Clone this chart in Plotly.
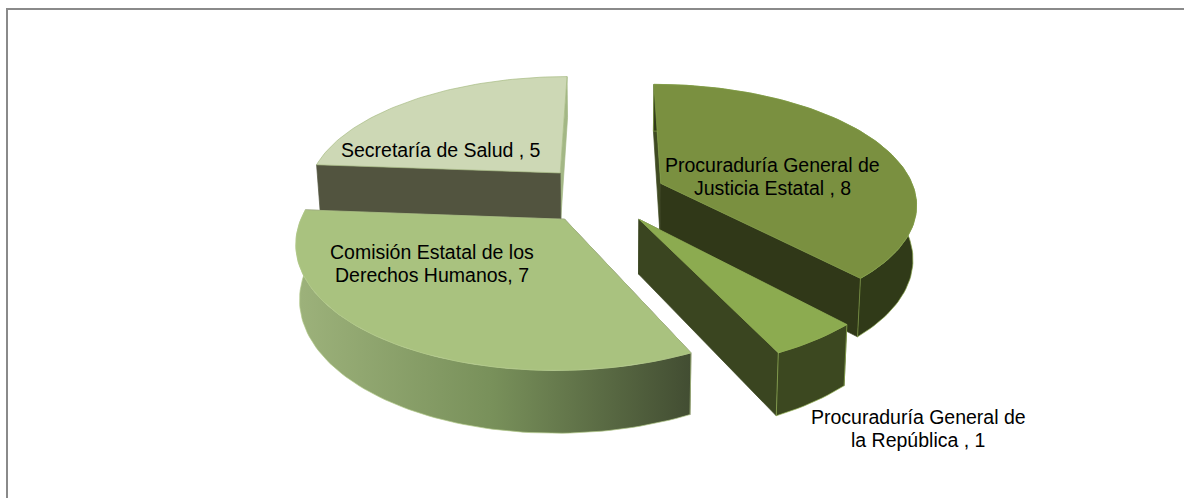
import math
import plotly.graph_objects as go

categories = ["Procuraduría General de Justicia Estatal", "Procuraduría General de la República",
              "Comisión Estatal de los Derechos Humanos", "Secretaría de Salud"]
values = [8, 1, 7, 5]
label_lines = [["Procuraduría General de", "Justicia Estatal , 8"], ["Procuraduría General de", "la República , 1"],
               ["Comisión Estatal de los", "Derechos Humanos, 7"], ["Secretaría de Salud , 5"]]
top_colors = ["#7A9040", "#8CAB50", "#A9C27F", "#CDD8B5"]
end_face_colors = ["#303818", "#3A4520", "#54553F", "#A3B785"]
start_face_colors = ["#3F4A22", "#3A4520", "#54553F", "#52543F"]
wall_colors = ["#303A18", "#3C4820", None, "#A3B785"]
edge_colors = ["#84A048", "#97B558", "#B2C98A", "#A8BC84"]
wall_gradient = [[0, "#9DB27B"], [0.5, "#78905A"], [1, "#424D32"]]
label_x = [772, 918, 431.5, 441]
label_y = [165, 417, 252, 150]
depths = [54, 54, 53, 47.5]
draw_order = [3, 0, 2, 1]

A, B, K, EXPLODE, VX, CY, X0, BOTTOM = 255, 118, 0.16, 0.25, 611, 194, -0.035, 0.012
LINE_STEP = 22.5


def project(x, y, down=0.0):
    w = (1 - K * y) * (1 + BOTTOM * (1 if down else 0))
    return VX + A * (x + X0) / w, CY + (B * y + down) / w


def arc(ox, oy, t0, t1, down, n):
    return [project(ox + math.sin(t0 + (t1 - t0) * i / n), oy - math.cos(t0 + (t1 - t0) * i / n), down)
            for i in range(n + 1)]


def poly(fig, pts, color, edge=None, gradient=None):
    xs = [p[0] for p in pts] + [pts[0][0]]
    ys = [p[1] for p in pts] + [pts[0][1]]
    kw = dict(x=xs, y=ys, mode="lines", fill="toself", hoverinfo="skip", showlegend=False,
              line=dict(color=edge or color or "rgba(0,0,0,0)", width=0.7))
    if gradient:
        kw["fillgradient"] = dict(type="horizontal", colorscale=gradient)
    else:
        kw["fillcolor"] = color
    fig.add_trace(go.Scatter(**kw))


fig = go.Figure()
total = sum(values)
starts = [sum(values[:i]) / total * 2 * math.pi for i in range(len(values))]
ends = [sum(values[:i + 1]) / total * 2 * math.pi for i in range(len(values))]

for i in draw_order:
    t0, t1 = starts[i], ends[i]
    mid = (t0 + t1) / 2
    ox, oy = EXPLODE * math.sin(mid), -EXPLODE * math.cos(mid)
    d = depths[i]
    n = max(8, int((t1 - t0) * 40))
    apex_t, apex_b = project(ox, oy), project(ox, oy, d)
    top_arc, bot_arc = arc(ox, oy, t0, t1, 0, n), arc(ox, oy, t0, t1, d, n)
    # the face that looks away goes down first
    faces = [([apex_t, top_arc[0], bot_arc[0], apex_b], start_face_colors[i]),
             ([apex_t, top_arc[-1], bot_arc[-1], apex_b], end_face_colors[i])]
    if i == 3:
        faces.reverse()
    for pts, col in faces:
        poly(fig, pts, col, col)
    wall = top_arc + bot_arc[::-1]
    if wall_colors[i] is None:
        poly(fig, wall, None, "#B2C98A", wall_gradient)
    elif i != 3:
        poly(fig, wall, wall_colors[i], edge_colors[i])
    poly(fig, [apex_t] + top_arc, top_colors[i], edge_colors[i])

fig.update_layout(
    width=1184, height=498, margin=dict(l=0, r=0, t=0, b=0), autosize=False,
    paper_bgcolor="white", plot_bgcolor="white", showlegend=False,
    xaxis=dict(range=[0, 1184], visible=False, fixedrange=True),
    yaxis=dict(range=[498, 0], visible=False, fixedrange=True),
    shapes=[dict(type="line", xref="x", yref="y", x0=7, y0=9, x1=1184, y1=9,
                 line=dict(color="#8A8A8A", width=2), layer="below"),
            dict(type="line", xref="x", yref="y", x0=7, y0=8, x1=7, y1=498,
                 line=dict(color="#8A8A8A", width=2), layer="below")],
)
for lines, x, y in zip(label_lines, label_x, label_y):
    for j, t in enumerate(lines):
        fig.add_annotation(x=x, y=y + j * LINE_STEP, xref="x", yref="y", text=t, showarrow=False,
                           font=dict(family="Liberation Sans", size=19.5, color="#000000"), align="center")
fig.write_html("out.html", config={"displayModeBar": False},
               post_script="document.body.style.margin='0';document.body.style.overflow='hidden';")
